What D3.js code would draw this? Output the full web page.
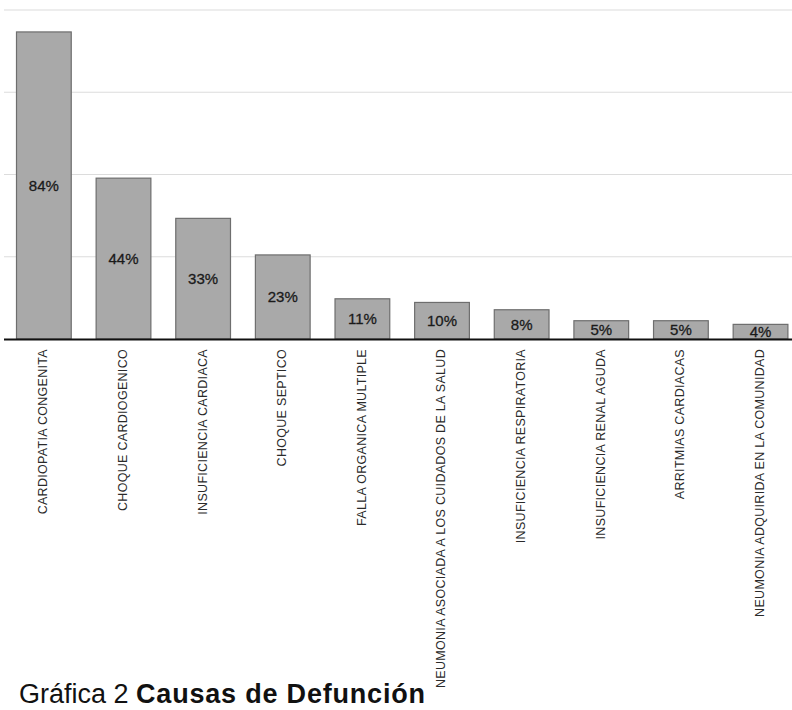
<!DOCTYPE html>
<html>
<head>
<meta charset="utf-8">
<script src="https://cdn.jsdelivr.net/npm/d3@7"></script>
<style>
  html, body { margin: 0; padding: 0; background: #fff; }
  svg { display: block; }
</style>
</head>
<body>
<svg id="chart" width="792" height="710"></svg>
<script>
const categories = [
  "CARDIOPATIA CONGENITA",
  "CHOQUE CARDIOGENICO",
  "INSUFICIENCIA CARDIACA",
  "CHOQUE SEPTICO",
  "FALLA ORGANICA MULTIPLE",
  "NEUMONIA ASOCIADA A LOS CUIDADOS DE LA SALUD",
  "INSUFICIENCIA RESPIRATORIA",
  "INSUFICIENCIA RENAL AGUDA",
  "ARRITMIAS CARDIACAS",
  "NEUMONIA ADQUIRIDA EN LA COMUNIDAD"
];
const values = [84, 44, 33, 23, 11, 10, 8, 5, 5, 4];
const gridTicks = [22.5, 45, 67.5, 90];
const titleNormal = "Gráfica 2";
const titleBold = "Causas de Defunción";

const svg = d3.select("#chart");
const baseY = 339, topY = 10;
const font = "'Liberation Sans', Arial, Helvetica, sans-serif";

const x = d3.scaleBand()
  .domain(categories)
  .range([16, 788.4])
  .paddingInner(0.3)
  .paddingOuter(0);

const y = d3.scaleLinear()
  .domain([0, 90])
  .range([baseY, topY]);

// gridlines
svg.append("g")
  .selectAll("line")
  .data(gridTicks)
  .join("line")
  .attr("x1", 4).attr("x2", 792)
  .attr("y1", d => y(d)).attr("y2", d => y(d))
  .attr("stroke", "#dcdcdc")
  .attr("stroke-width", 1.2);

// bars
svg.append("g")
  .selectAll("rect")
  .data(values)
  .join("rect")
  .attr("x", (d, i) => x(categories[i]) + 0.5)
  .attr("y", d => y(d))
  .attr("width", x.bandwidth() - 1)
  .attr("height", d => baseY - y(d))
  .attr("fill", "#a9a9a9")
  .attr("stroke", "#6e6e6e")
  .attr("stroke-width", 1.2);

// baseline
svg.append("line")
  .attr("x1", 4).attr("x2", 792)
  .attr("y1", baseY + 0.5).attr("y2", baseY + 0.5)
  .attr("stroke", "#111")
  .attr("stroke-width", 2);

// value labels
svg.append("g")
  .selectAll("text")
  .data(values)
  .join("text")
  .attr("x", (d, i) => x(categories[i]) + x.bandwidth() / 2)
  .attr("y", d => (y(d) + baseY) / 2)
  .attr("dy", "0.36em")
  .attr("text-anchor", "middle")
  .attr("font-family", font)
  .attr("font-size", 15)
  .attr("fill", "#1a1a1a")
  .attr("stroke", "#1a1a1a")
  .attr("stroke-width", 0.3)
  .text(d => d + "%");

// category labels
svg.append("g")
  .selectAll("text")
  .data(categories)
  .join("text")
  .attr("transform", d => `translate(${x(d) + x.bandwidth() / 2 - 1},${baseY + 10}) rotate(-90)`)
  .attr("dy", "0.35em")
  .attr("text-anchor", "end")
  .attr("font-family", font)
  .attr("font-size", 12.5)
  .attr("letter-spacing", 0.3)
  .attr("fill", "#2a2a2a")
  .text(d => d);

// title
const t = svg.append("text")
  .attr("x", 19)
  .attr("y", 703)
  .attr("font-family", font)
  .attr("font-size", 27)
  .attr("fill", "#111");
t.append("tspan").text(titleNormal + " ");
t.append("tspan").attr("font-weight", "bold").attr("letter-spacing", 0.8).text(titleBold);
</script>
</body>
</html>
